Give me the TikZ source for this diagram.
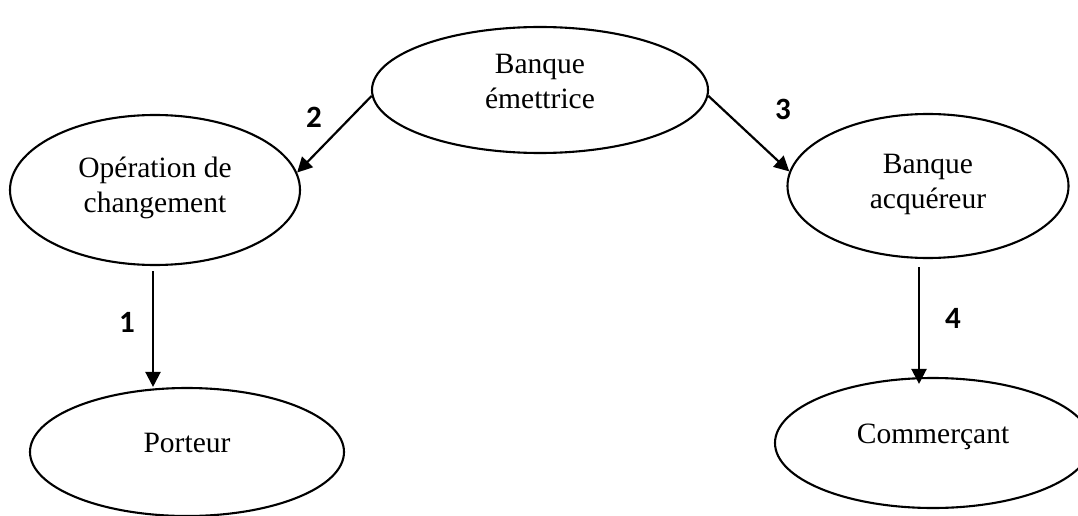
\documentclass[tikz,border=0pt]{standalone}
\usepackage{fontspec}
\setmainfont{Liberation Serif}
\newfontfamily\labelfont{Carlito}
\usetikzlibrary{shapes.geometric,arrows.meta,calc}

\begin{document}
\begin{tikzpicture}[x=1pt,y=-1pt,
  bubble/.style={draw,ellipse,line width=2.1pt,inner sep=0pt},
  caption/.style={align=center,font=\fontsize{29.5}{35}\selectfont,inner sep=0pt},
  flow/.style={line width=2.2pt,-{Triangle[length=15pt,width=15pt]}},
  num/.style={font=\labelfont\bfseries\fontsize{31}{36}\selectfont,inner sep=0pt}]
\useasboundingbox (0,0) rectangle (1078,516);

% the five parties
\node[bubble,minimum width=336pt,minimum height=126pt] (em)   at (540,90)  {};
\node[bubble,minimum width=290pt,minimum height=150pt] (op)   at (155,190) {};
\node[bubble,minimum width=281pt,minimum height=144pt] (acq)  at (928,186) {};
\node[bubble,minimum width=314pt,minimum height=128pt] (port) at (187,452) {};
\node[bubble,minimum width=316pt,minimum height=130pt] (comm) at (933,443) {};

% their names
\node[caption] (em-t)   at ($(em.center)+(0,-9)$)  {Banque\\émettrice};
\node[caption] (op-t)   at ($(op.center)+(0,-2)$)   {Opération de\\changement};
\node[caption] (acq-t)  at ($(acq.center)+(0,-2)$)  {Banque\\acquéreur};
\node[caption] (port-t) at ($(port.center)+(0,-9)$) {Porteur};
\node[caption] (comm-t) at ($(comm.center)+(0,-6)$) {Commerçant};

% flows between the parties
\draw[flow] ($(op.south)+(-2,5)$) -- ($(op.south |- port.north)+(-2,0)$);
\draw[flow] (em.182) -- (op.7);
\draw[flow] (em.-2) -- (acq.174);
\draw[flow] ($(acq.south)+(-9,8)$) -- ($(acq.south |- comm.north)+(-9,7)$);

% step numbers
\node[num] (n1) at (127,322) {1};
\node[num] (n2) at (314,117) {2};
\node[num] (n3) at (783,109) {3};
\node[num] (n4) at (953,318) {4};
\end{tikzpicture}
\end{document}
